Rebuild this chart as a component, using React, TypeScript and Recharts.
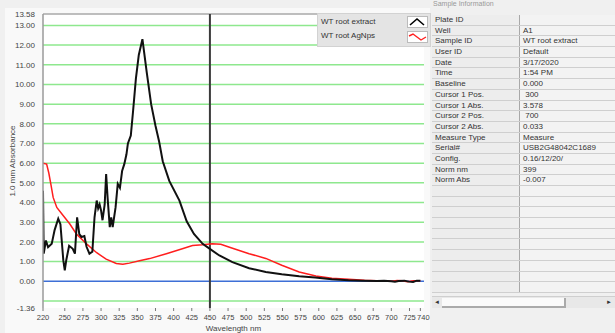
import React from 'react';
import { LineChart, Line, XAxis, YAxis, CartesianGrid, ReferenceLine } from 'recharts';

const rootExtract = [
  [220, 4.6], [221, 1.4], [224, 2.07], [227, 1.73], [232, 1.9], [236, 2.6], [241, 3.18], [244, 2.9],
  [248, 1.06], [250, 0.55], [252, 1.06], [256, 1.8], [261, 1.65], [264, 1.4], [267, 3.25], [270, 2.4],
  [273, 2.25], [277, 2.3], [280, 1.75], [284, 1.4], [288, 1.5], [291, 3.25], [294, 4.1], [296, 3.7],
  [298, 3.9], [300, 3.6], [302, 3.1], [305, 3.9], [307, 5.45], [309, 4.25], [312, 2.75], [314, 3.25],
  [316, 2.75], [320, 3.75], [323, 4.95], [326, 4.75], [329, 5.6], [332, 5.95], [335, 6.45], [337, 7.0],
  [341, 7.4], [344, 8.6], [348, 10.3], [352, 11.5], [357, 12.3], [363, 10.6], [369, 9.0], [375, 7.9],
  [380, 7.1], [385, 6.1], [394, 5.1], [408, 4.1], [418, 3.05], [428, 2.4], [440, 1.9], [446, 1.75],
  [463, 1.31], [481, 0.97], [504, 0.66], [527, 0.47], [549, 0.35], [573, 0.25], [595, 0.19], [618, 0.1],
  [641, 0.05], [660, 0.03], [680, 0.01], [690, 0.03], [700, 0.0], [705, -0.03], [710, 0.01], [718, 0.03],
  [724, -0.02], [730, -0.04], [735, 0.03], [740, 0.02],
];

const rootAgNps = [
  [220, 6.0], [225, 5.95], [228, 5.5], [231, 4.9], [234, 4.26], [239, 3.75], [248, 3.33], [257, 2.91],
  [266, 2.4], [280, 1.9], [294, 1.45], [307, 1.12], [321, 0.9], [330, 0.86], [339, 0.92], [353, 1.04],
  [367, 1.15], [390, 1.4], [412, 1.65], [426, 1.82], [440, 1.85], [453, 1.9], [465, 1.88], [477, 1.73],
  [504, 1.4], [527, 1.16], [549, 0.81], [573, 0.47], [596, 0.27], [618, 0.15], [641, 0.1], [663, 0.05],
  [680, 0.03], [692, 0.01], [700, 0.0], [708, 0.04], [715, 0.02], [722, -0.02], [730, 0.03], [740, 0.02],
];

const xTicks = [220, 250, 275, 300, 325, 350, 375, 400, 425, 450, 475, 500, 525, 550, 575, 600, 625, 650, 675, 700, 725, 740];
const yTicks = [-1.36, 0, 1, 2, 3, 4, 5, 6, 7, 8, 9, 10, 11, 12, 13, 13.58];
const gridLevels = [-1, 1, 2, 3, 4, 5, 6, 7, 8, 9, 10, 11, 12, 13];
const cursorNm = 450;

const sampleInfo = [
  ['Plate ID', ''],
  ['Well', 'A1'],
  ['Sample ID', 'WT root extract'],
  ['User ID', 'Default'],
  ['Date', '3/17/2020'],
  ['Time', '1:54 PM'],
  ['Baseline', '0.000'],
  ['Cursor 1 Pos.', ' 300'],
  ['Cursor 1 Abs.', '3.578'],
  ['Cursor 2 Pos.', ' 700'],
  ['Cursor 2 Abs.', '0.033'],
  ['Measure Type', 'Measure'],
  ['Serial#', 'USB2G48042C1689'],
  ['Config.', '0.16/12/20/'],
  ['Norm nm', '399'],
  ['Norm Abs', '-0.007'],
  ['', ''], ['', ''], ['', ''], ['', ''], ['', ''], ['', ''], ['', ''], ['', ''], ['', ''], ['', ''],
];

const toRows = (pts: number[][]) => pts.map(([nm, abs]) => ({ nm, abs }));

const font = '"Liberation Sans", Arial, sans-serif';

// last label sits a little right of its tick, as in the instrument software
const XTick = (props: any) => {
  const { x, y, payload } = props;
  const dx = payload.value === 740 ? 3 : 0;
  return (
    <text x={x + dx} y={y + 7} textAnchor="middle" fontSize={7.5} fill="#444" fontFamily={font}>
      {payload.value}
    </text>
  );
};

export default function App() {
  const rowH = 10.7;
  return (
    <div style={{ position: 'absolute', left: 0, top: 0, width: 615, height: 333, background: '#f0f0f0', fontFamily: font, overflow: 'hidden' }}>
      <div style={{ position: 'absolute', left: 5, top: 8, width: 425, height: 325, background: '#f9f9f9' }} />
      <div style={{ position: 'absolute', left: 0, top: 0 }}>
        <LineChart width={430} height={333} margin={{ top: 14, right: 6, bottom: 0, left: 0 }}>
          <CartesianGrid fill="#ffffff" stroke="none" horizontal={false} vertical={false} />
          <XAxis
            type="number"
            dataKey="nm"
            domain={[220, 745]}
            ticks={xTicks}
            interval={0}
            allowDataOverflow
            height={25}
            axisLine={false}
            tickLine={{ stroke: '#777' }}
            tickSize={3}
            tick={<XTick />}
            label={{ value: 'Wavelength nm', position: 'insideBottom', offset: 2, fontSize: 8, fill: '#444', fontFamily: font }}
          />
          <YAxis
            type="number"
            domain={[-1.36, 13.58]}
            ticks={yTicks}
            interval={0}
            allowDataOverflow
            width={43}
            axisLine={{ stroke: '#9a9a9a', strokeWidth: 1.5 }}
            tickLine={false}
            tickFormatter={(v: number) => v.toFixed(2)}
            tick={{ fontSize: 8, fill: '#444', fontFamily: font }}
            label={{ value: '1.0 mm Absorbance', angle: -90, position: 'insideLeft', offset: 12, fontSize: 8, fill: '#444', fontFamily: font, style: { textAnchor: 'middle' } }}
          />
          {gridLevels.map((g) => (
            <ReferenceLine key={g} y={g} stroke="#8ee88e" strokeWidth={1.5} />
          ))}
          <ReferenceLine y={0} stroke="#3d6fd6" strokeWidth={1.5} />
          <ReferenceLine y={13.58} stroke="#a8a8a8" strokeWidth={1.5} />
          <ReferenceLine x={cursorNm} stroke="#3a3a3a" strokeWidth={2} />
          <Line data={toRows(rootAgNps)} dataKey="abs" type="linear" stroke="#ff1e1e" strokeWidth={1.5} dot={false} isAnimationActive={false} />
          <Line data={toRows(rootExtract)} dataKey="abs" type="linear" stroke="#111111" strokeWidth={2} dot={false} isAnimationActive={false} />
        </LineChart>
      </div>

      <div style={{ position: 'absolute', left: 317, top: 13, width: 112, height: 32, background: '#e4e4e4', border: '1px solid #d2d2d2', fontSize: 8, color: '#333' }}>
        <div style={{ position: 'absolute', left: 3, top: 3 }}>WT root extract</div>
        <div style={{ position: 'absolute', left: 3, top: 17 }}>WT root AgNps</div>
        <svg style={{ position: 'absolute', left: 89, top: 2 }} width={21} height={12}>
          <rect x={0.5} y={0.5} width={20} height={11} fill="#fff" stroke="#bbb" />
          <polyline points="3,9 10,3 17,9" fill="none" stroke="#000" strokeWidth={1.6} />
        </svg>
        <svg style={{ position: 'absolute', left: 89, top: 17 }} width={21} height={12}>
          <rect x={0.5} y={0.5} width={20} height={11} fill="#fff" stroke="#bbb" />
          <polyline points="2,5 6,3 10,6 14,9 19,6" fill="none" stroke="#ff2020" strokeWidth={1.4} />
        </svg>
      </div>

      <div style={{ position: 'absolute', left: 433, top: 0, fontSize: 7, lineHeight: '8px', color: '#999' }}>Sample Information</div>
      <div style={{ position: 'absolute', left: 432, top: 15, width: 183, fontSize: 8, color: '#333' }}>
        {sampleInfo.map(([k, v], i) => (
          <div key={i} style={{ display: 'flex', height: rowH, borderBottom: '1.5px solid #cfcfcf', boxSizing: 'border-box' }}>
            <div style={{ width: 84, background: '#ededed', borderRight: '1px solid #a8a8a8', paddingLeft: 3, lineHeight: `${rowH - 1}px`, whiteSpace: 'pre' }}>{k}</div>
            <div style={{ flex: 1, background: '#f3f3f3', paddingLeft: 3, lineHeight: `${rowH - 1}px`, whiteSpace: 'pre' }}>{v}</div>
          </div>
        ))}
      </div>
      <div style={{ position: 'absolute', left: 432, top: 296, width: 183, height: 11, background: '#e8e8e8', borderTop: '1px solid #cfcfcf' }}>
        <div style={{ position: 'absolute', left: 2, top: 2, fontSize: 6, color: '#333' }}>◄</div>
        <div style={{ position: 'absolute', left: 10, top: 1, width: 122, height: 8, background: '#fafafa', borderBottom: '2px solid #aaa', borderRight: '2px solid #aaa' }} />
        <div style={{ position: 'absolute', right: 3, top: 2, fontSize: 6, color: '#333' }}>►</div>
      </div>
    </div>
  );
}
